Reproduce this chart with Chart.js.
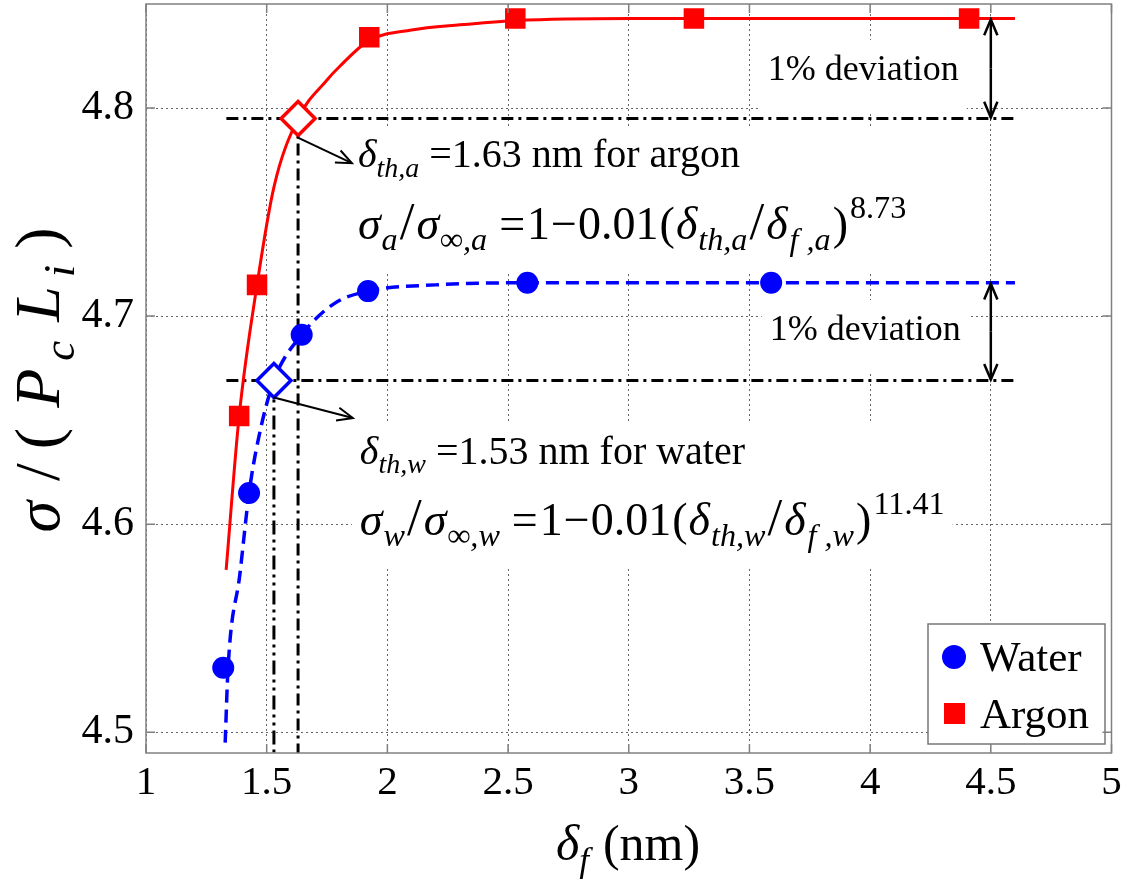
<!DOCTYPE html>
<html>
<head>
<meta charset="utf-8">
<script src="https://cdn.jsdelivr.net/npm/chart.js@4.4.0/dist/chart.umd.min.js"></script>
<style>
  html, body { margin: 0; padding: 0; background: #fff; }
  canvas { display: block; }
</style>
</head>
<body>
<canvas id="grafico" width="1132" height="879"></canvas>
<script>
const argonX = [1.386, 1.46, 1.925, 2.53, 3.27, 4.41];
const argonY = [4.652, 4.715, 4.834, 4.843, 4.843, 4.843];
const waterX = [1.32, 1.427, 1.645, 1.92, 2.58, 3.59];
const waterY = [4.531, 4.615, 4.691, 4.712, 4.716, 4.716];

// curvas de ajuste, lidas ao longo da linha
const argonFitX = [1.332, 1.386, 1.46, 1.53, 1.63, 1.75, 1.80, 1.925, 2.1, 2.3, 2.53, 3.0, 4.6];
const argonFitY = [4.578, 4.652, 4.715, 4.762, 4.795, 4.8135, 4.8197, 4.8325, 4.8375, 4.840, 4.842, 4.843, 4.843];
const waterFitX = [1.328, 1.34, 1.389, 1.427, 1.464, 1.53, 1.645, 1.78, 1.92, 2.2, 2.58, 4.6];
const waterFitY = [4.495, 4.531, 4.576, 4.615, 4.640, 4.669, 4.691, 4.706, 4.712, 4.715, 4.716, 4.716];

// espessuras limite (1% de desvio)
const limiteArgon = [1.63, 4.795];
const limiteAgua = [1.53, 4.669];
const linhaInicioX = 1.333;
const linhaFimX = 4.6;
const eixoYMin = 4.49;
const eixoYMax = 4.85;

// setas de desvio (x, y inicial, y final)
const desvioArgon = [4.5, 4.843, 4.795];
const desvioAgua = [4.5, 4.716, 4.669];

// ticks
const xTicks = [1, 1.5, 2, 2.5, 3, 3.5, 4, 4.5, 5];
const yTicks = [4.5, 4.6, 4.7, 4.8];

const serif = '"Liberation Serif", "Times New Roman", serif';
const xy = (xs, ys) => xs.map((x, i) => ({ x: x, y: ys[i] }));

// desenha texto com partes em italico / subscrito / sobrescrito
function textoRico(ctx, x, y, partes, tam, medir) {
  let cx = x;
  partes.forEach(p => {
    const s = (p.sub || p.sup) ? tam * 0.7 : tam * (p.esc || 1);
    ctx.font = (p.it ? 'italic ' : '') + s + 'px ' + serif;
    const dy = p.sub ? tam * 0.24 : (p.sup ? -tam * 0.45 : 0);
    if (!medir) ctx.fillText(p.t, cx, y + dy);
    cx += ctx.measureText(p.t).width + (p.dx || 0);
  });
  return cx - x;
}

function seta(ctx, x1, y1, x2, y2, ponta) {
  const ang = Math.atan2(y2 - y1, x2 - x1);
  ctx.beginPath();
  ctx.moveTo(x1, y1);
  ctx.lineTo(x2, y2);
  ctx.stroke();
  ctx.beginPath();
  ctx.moveTo(x2 - ponta * Math.cos(ang - 0.4), y2 - ponta * Math.sin(ang - 0.4));
  ctx.lineTo(x2, y2);
  ctx.lineTo(x2 - ponta * Math.cos(ang + 0.4), y2 - ponta * Math.sin(ang + 0.4));
  ctx.stroke();
}

function equacao(s, expoente) {
  return [
    { t: 'σ', it: 1, dx: 1 }, { t: s, it: 1, sub: 1, dx: 2 }, { t: '/', esc: 1.15, dx: 2 }, { t: 'σ', it: 1, dx: 1 },
    { t: '∞,' + s, it: 1, sub: 1, dx: 12 }, { t: '=', dx: 2 }, { t: '1', dx: 1 }, { t: '−', dx: 1 }, { t: '0.01', dx: 1 },
    { t: '(', dx: 1 }, { t: 'δ', it: 1, dx: 1 }, { t: 'th,' + s, it: 1, sub: 1, dx: 2 }, { t: '/', esc: 1.15, dx: 2 },
    { t: 'δ', it: 1, dx: 2 }, { t: 'f ,' + s, it: 1, sub: 1, dx: 2 }, { t: ')', dx: 2 }, { t: expoente, sup: 1 }
  ];
}

const textos = [
  { grupo: 0, x: 1.878, y: 4.7716, tam: 40, partes: [
    { t: 'δ', it: 1 }, { t: 'th,a', it: 1, sub: 1 }, { t: ' =1.63 nm for argon' }] },
  { grupo: 0, x: 1.878, y: 4.737, tam: 46, partes: equacao('a', '8.73') },
  { grupo: 1, x: 1.886, y: 4.629, tam: 40, partes: [
    { t: 'δ', it: 1 }, { t: 'th,w', it: 1, sub: 1 }, { t: ' =1.53 nm for water' }] },
  { grupo: 1, x: 1.886, y: 4.595, tam: 46, partes: equacao('w', '11.41') },
  { grupo: 2, x: 3.576, y: 4.8135, tam: 36, partes: [{ t: '1% deviation' }] },
  { grupo: 3, x: 3.584, y: 4.6885, tam: 36, partes: [{ t: '1% deviation' }] }
];

const anotacoes = {
  id: 'anotacoes',
  afterLayout(chart) {
    // a area do grafico deve comecar no topo (4px)
    const a = chart.chartArea, sy = chart.scales.y;
    a.top = 4;
    a.height = a.bottom - a.top;
    sy.top = 4;
    sy.height = sy.bottom - sy.top;
    sy.configure();
  },
  beforeDatasetsDraw(chart) {
    const ctx = chart.ctx, sx = chart.scales.x, sy = chart.scales.y;
    // rotulos do eixo y, posicionados pela escala
    ctx.save();
    ctx.fillStyle = '#000';
    ctx.font = '42px ' + serif;
    ctx.textAlign = 'right';
    ctx.textBaseline = 'middle';
    yTicks.forEach(v => ctx.fillText(v.toFixed(1), chart.chartArea.left - 12, sy.getPixelForValue(v)));
    ctx.restore();

    // fundo branco das caixas de texto (cobre a grade)
    const caixas = {};
    textos.forEach(tx => {
      const x = sx.getPixelForValue(tx.x), y = sy.getPixelForValue(tx.y);
      const w = textoRico(ctx, x, y, tx.partes, tx.tam, true);
      const c = caixas[tx.grupo] || { l: 1e9, r: -1e9, t: 1e9, b: -1e9 };
      c.l = Math.min(c.l, x - 8); c.r = Math.max(c.r, x + w + 8);
      c.t = Math.min(c.t, y - 40); c.b = Math.max(c.b, y + 32);
      caixas[tx.grupo] = c;
    });
    ctx.save();
    ctx.fillStyle = '#fff';
    Object.values(caixas).forEach(c => ctx.fillRect(c.l, c.t, c.r - c.l, c.b - c.t));
    ctx.restore();
  },
  afterDraw(chart) {
    const ctx = chart.ctx, sx = chart.scales.x, sy = chart.scales.y, a = chart.chartArea;
    ctx.save();
    ctx.fillStyle = '#000';
    ctx.textBaseline = 'alphabetic';
    ctx.textAlign = 'left';
    textos.forEach(tx => textoRico(ctx, sx.getPixelForValue(tx.x), sy.getPixelForValue(tx.y), tx.partes, tx.tam));

    // setas simples apontando para os limites
    ctx.strokeStyle = '#000';
    ctx.lineWidth = 2;
    seta(ctx, sx.getPixelForValue(1.625), sy.getPixelForValue(4.786), sx.getPixelForValue(1.853), sy.getPixelForValue(4.7735), 17);
    seta(ctx, sx.getPixelForValue(1.526), sy.getPixelForValue(4.661), sx.getPixelForValue(1.857), sy.getPixelForValue(4.651), 17);

    // setas duplas de 1% de desvio
    ctx.lineWidth = 2.5;
    [desvioArgon, desvioAgua].forEach(d => {
      const x = sx.getPixelForValue(d[0]), y1 = sy.getPixelForValue(d[1]), y2 = sy.getPixelForValue(d[2]);
      seta(ctx, x, (y1 + y2) / 2, x, y1 + 1, 17);
      seta(ctx, x, (y1 + y2) / 2, x, y2 - 1, 17);
    });

    // legenda
    const lx = 928, ly = 624, lw = 177, lh = 120;
    ctx.fillStyle = '#fff';
    ctx.fillRect(lx, ly, lw, lh);
    ctx.strokeStyle = '#777';
    ctx.lineWidth = 1.5;
    ctx.strokeRect(lx, ly, lw, lh);
    ctx.fillStyle = '#0000ff';
    ctx.beginPath();
    ctx.arc(lx + 26, ly + 33, 12, 0, Math.PI * 2);
    ctx.fill();
    ctx.fillStyle = '#ff0000';
    ctx.fillRect(lx + 16, ly + 79, 21, 21);
    ctx.fillStyle = '#000';
    ctx.font = '43px ' + serif;
    ctx.fillText('Water', lx + 52, ly + 47);
    ctx.fillText('Argon', lx + 52, ly + 104);

    // moldura com ticks internos
    ctx.strokeStyle = '#808080';
    ctx.lineWidth = 1.5;
    ctx.strokeRect(a.left, a.top, a.right - a.left, a.bottom - a.top);
    ctx.beginPath();
    xTicks.forEach(v => {
      const x = sx.getPixelForValue(v);
      ctx.moveTo(x, a.bottom); ctx.lineTo(x, a.bottom - 9);
      ctx.moveTo(x, a.top); ctx.lineTo(x, a.top + 9);
    });
    yTicks.forEach(v => {
      const y = sy.getPixelForValue(v);
      ctx.moveTo(a.left, y); ctx.lineTo(a.left + 9, y);
      ctx.moveTo(a.right, y); ctx.lineTo(a.right - 9, y);
    });
    ctx.stroke();

    // titulos dos eixos
    ctx.fillStyle = '#000';
    const tx = [{ t: 'δ', it: 1 }, { t: 'f', it: 1, sub: 1, dx: 14 }, { t: '(nm)' }];
    const wx = textoRico(ctx, 0, 0, tx, 50, true);
    textoRico(ctx, 628 - wx / 2, 860, tx, 50);

    const ty = [{ t: 'σ', it: 1, dx: 20 }, { t: '/', dx: 14 }, { t: '(', dx: 20 }, { t: 'P', it: 1, dx: 8 },
      { t: 'c', it: 1, sub: 1, dx: 19 }, { t: 'L', it: 1, dx: 9 }, { t: 'i', it: 1, sub: 1, dx: 16 }, { t: ')' }];
    const wy = textoRico(ctx, 0, 0, ty, 64, true);
    ctx.translate(59, 380);
    ctx.rotate(-Math.PI / 2);
    textoRico(ctx, -wy / 2, 0, ty, 64);
    ctx.restore();
  }
};

const pontilhado = [12, 5, 3, 5];

new Chart(document.getElementById('grafico'), {
  type: 'scatter',
  data: {
    datasets: [
      { label: 'limiar argon', data: [{ x: limiteArgon[0], y: limiteArgon[1] }], pointStyle: 'rectRot',
        pointRadius: 17, borderColor: '#ff0000', backgroundColor: '#fff', borderWidth: 3.5, order: 0 },
      { label: 'limiar agua', data: [{ x: limiteAgua[0], y: limiteAgua[1] }], pointStyle: 'rectRot',
        pointRadius: 17, borderColor: '#0000ff', backgroundColor: '#fff', borderWidth: 3.5, order: 0 },
      { label: 'Water', data: xy(waterX, waterY), pointStyle: 'circle', pointRadius: 11,
        backgroundColor: '#0000ff', borderColor: '#0000ff', borderWidth: 0, order: 1 },
      { label: 'Argon', data: xy(argonX, argonY), pointStyle: 'rect', pointRadius: 14.5,
        backgroundColor: '#ff0000', borderColor: '#ff0000', borderWidth: 0, order: 1 },
      { label: 'ajuste argon', data: xy(argonFitX, argonFitY), showLine: true, pointRadius: 0,
        borderColor: '#ff0000', borderWidth: 3, cubicInterpolationMode: 'monotone', order: 2 },
      { label: 'ajuste agua', data: xy(waterFitX, waterFitY), showLine: true, pointRadius: 0,
        borderColor: '#0000ff', borderWidth: 3.5, borderDash: [13, 7], cubicInterpolationMode: 'monotone', order: 2 },
      { label: 'h argon', data: [{ x: linhaInicioX, y: limiteArgon[1] }, { x: linhaFimX, y: limiteArgon[1] }],
        showLine: true, pointRadius: 0, borderColor: '#000', borderWidth: 3, borderDash: pontilhado, order: 3 },
      { label: 'v argon', data: [{ x: limiteArgon[0], y: limiteArgon[1] }, { x: limiteArgon[0], y: eixoYMin }],
        showLine: true, pointRadius: 0, borderColor: '#000', borderWidth: 3, borderDash: pontilhado, order: 3 },
      { label: 'h agua', data: [{ x: linhaInicioX, y: limiteAgua[1] }, { x: linhaFimX, y: limiteAgua[1] }],
        showLine: true, pointRadius: 0, borderColor: '#000', borderWidth: 3, borderDash: pontilhado, order: 3 },
      { label: 'v agua', data: [{ x: limiteAgua[0], y: limiteAgua[1] }, { x: limiteAgua[0], y: eixoYMin }],
        showLine: true, pointRadius: 0, borderColor: '#000', borderWidth: 3, borderDash: [14, 5, 3, 5, 3, 5], order: 3 }
    ]
  },
  options: {
    responsive: false,
    animation: false,
    devicePixelRatio: 1,
    layout: { padding: { top: 4, right: 20, left: 0, bottom: 0 } },
    plugins: { legend: { display: false }, tooltip: { enabled: false } },
    scales: {
      x: {
        type: 'linear', min: 1, max: 5,
        afterBuildTicks(s) { s.ticks = xTicks.map(v => ({ value: v })); },
        afterFit(s) { s.height = 126; },
        ticks: { color: '#000', font: { family: serif, size: 41 }, padding: 6, callback: v => String(v) },
        grid: { color: '#666', lineWidth: 1, drawTicks: false, borderDash: [2, 3] },
        border: { display: false, dash: [2, 3] }
      },
      y: {
        type: 'linear', min: eixoYMin, max: eixoYMax,
        afterBuildTicks(s) { s.ticks = yTicks.map(v => ({ value: v })); },
        afterFit(s) { s.width = 146; },
        // rotulos desenhados no plugin
        ticks: { display: false },
        grid: { color: '#666', lineWidth: 1, drawTicks: false, borderDash: [2, 3] },
        border: { display: false, dash: [2, 3] }
      }
    }
  },
  plugins: [anotacoes]
});
</script>
</body>
</html>
